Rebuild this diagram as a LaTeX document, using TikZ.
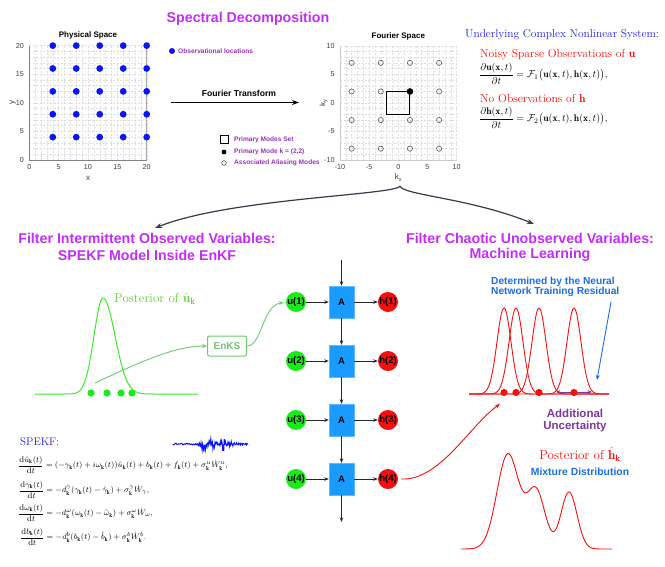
\documentclass[tikz,border=0pt]{standalone}
\usepackage{fontspec}
\usepackage{amsmath}
\newfontfamily\hv{Liberation Sans}
\usetikzlibrary{arrows.meta}
\newcommand\fsz[1]{\fontsize{#1}{#1}\selectfont}
\definecolor{tpurple}{RGB}{195,45,245}
\definecolor{lpurple}{RGB}{150,50,190}
\definecolor{obsblue}{RGB}{10,20,245}
\definecolor{gridc}{RGB}{222,222,222}
\definecolor{axisc}{RGB}{130,130,130}
\definecolor{tickc}{RGB}{60,60,60}
\definecolor{ablue}{RGB}{25,155,255}
\definecolor{ugreen}{RGB}{25,235,25}
\definecolor{hred}{RGB}{245,15,15}
\definecolor{eqblue}{RGB}{30,30,235}
\definecolor{curvegreen}{RGB}{60,235,40}
\definecolor{postgreen}{RGB}{100,210,50}
\definecolor{enksgreen}{RGB}{110,200,110}
\definecolor{nblue}{RGB}{25,110,225}
\definecolor{upurple}{RGB}{125,55,160}
\definecolor{bracec}{RGB}{50,60,75}
\begin{document}
\begin{tikzpicture}[x=1pt,y=-1pt,
  every node/.style={inner sep=0pt},
  tick/.style={font=\hv\fsz{7.2}, text=tickc},
  legtext/.style={font=\hv\bfseries\fsz{6.6}, text=lpurple, anchor=west},
  ptitle/.style={font=\hv\bfseries\fsz{8}},
  sect/.style={font=\hv\bfseries\fsz{14.2}, text=tpurple},
  abox/.style={fill=ablue, draw=ablue!70, minimum width=25pt, minimum height=32pt, font=\hv\bfseries\fsz{9.5}},
  unode/.style={circle, fill=ugreen, minimum size=20pt, font=\hv\bfseries\fsz{9.5}},
  hnode/.style={circle, fill=hred, minimum size=20pt, font=\hv\bfseries\fsz{9.5}},
  conn/.style={-{Stealth[length=4.5pt,width=3.5pt]}, line width=0.8pt, black!85},
  gline/.style={gridc, dash pattern=on 2pt off 1.5pt, line width=0.4pt},
  speq/.style={anchor=west, font=\fsz{8.3}}
]
\useasboundingbox (0,0) rectangle (665,566);

% ---------- title
\node[font=\hv\bfseries\fsz{14.2}, text=tpurple] (title) at (248,19) {Spectral Decomposition};

% ---------- physical space
\begin{scope}[shift={(29.3,160)},x=5.87pt,y=5.72pt]
  \foreach \i in {1,...,20} {\draw[gline] (\i,0) -- (\i,20); \draw[gline] (0,\i) -- (20,\i);}
  \draw[axisc, line width=0.6pt] (0,0) -- (0,20);
  \draw[axisc, line width=0.6pt] (0,0) -- (20,0);
  \draw[axisc!70, line width=0.6pt] (20,0) -- (20,20);
  \foreach \v in {0,5,10,15,20} {
    \node[tick, anchor=north] (pxt\v) at (\v,-0.7) {\v};
    \node[tick, anchor=east] (pyt\v) at (-0.9,\v) {\v};
  }
  \foreach \a in {4,8,12,16,20} \foreach \b in {4,8,12,16,20}
    \fill[obsblue] (\a,\b) circle[radius=3.4pt];
  \node[ptitle] (pstitle) at (10,21.7) {Physical Space};
  \node[tick, font=\hv\fsz{8}] (pxlab) at (10,-3.2) {x};
  \node[tick, font=\hv\fsz{8}, rotate=90] (pylab) at (-2.8,10) {y};
\end{scope}
\fill[obsblue] (172,51) circle[radius=3pt];
\node[legtext] (leg0) at (178,51) {Observational locations};

% ---------- Fourier transform arrow
\coordinate (ftA) at (171,102.5);
\coordinate (ftB) at (299,102.5);
\draw[line width=1.4pt, -{Stealth[length=7pt,width=5pt]}] (ftA) -- (ftB);
\node[font=\hv\bfseries\fsz{8.6}] (ftlab) at (239,93) {Fourier Transform};

% ---------- Fourier space
\begin{scope}[shift={(398.3,102.9)},x=5.83pt,y=5.72pt]
  \foreach \i in {-9,...,10} {\draw[gline] (\i,-10) -- (\i,10); \draw[gline] (-10,\i) -- (10,\i);}
  \draw[gridc!80!gray, line width=0.5pt] (-10,-10) -- (-10,10);
  \draw[gridc!80!gray, line width=0.5pt] (-10,-10) -- (10,-10);
  \foreach \v in {-10,-5,0,5,10} {
    \node[tick, anchor=north] (fxt\v) at (\v,-10.7) {\v};
    \node[tick, anchor=east] (fyt\v) at (-10.9,\v) {\v};
  }
  \foreach \a in {-8,-3,2,7} \foreach \b in {-8,-3,2,7}
    \draw[black!65, line width=0.6pt] (\a,\b) circle[radius=2.6pt];
  \draw[black, line width=1pt] (-2,-2) rectangle (2,2);
  \fill[black] (2,2) circle[radius=3.3pt];
  \node[ptitle] (fstitle) at (0,11.7) {Fourier Space};
  \node[tick, font=\hv\fsz{8}] (kxlab) at (0,-13.1) {k\raisebox{-0.35ex}{\fsz{5.5}x}};
  \node[tick, font=\hv\fsz{8}, rotate=90] (kylab) at (-12.8,0) {k\raisebox{-0.35ex}{\fsz{5.5}y}};
\end{scope}
\draw[black, line width=0.9pt] (220,135) rectangle (228,143);
\node[legtext] (leg1) at (234,139.5) {Primary Modes Set};
\fill[black] (224,152) circle[radius=2.4pt];
\node[legtext] (leg2) at (234,152) {Primary Mode k = (2,2)};
\draw[black!70, line width=0.6pt] (224,163) circle[radius=2.3pt];
\node[legtext] (leg3) at (234,163) {Associated Aliasing Modes};

% ---------- underlying system
\node[anchor=west, text=eqblue, font=\fsz{11.4}] (usys) at (465,35) {Underlying Complex Nonlinear System:};
\node[anchor=west, text=hred, font=\fsz{11.6}] (noisy) at (480,55) {Noisy Sparse Observations of $\mathbf{u}$};
\node[anchor=west, font=\fsz{9.6}] (eq1) at (479,74) {$\dfrac{\partial\mathbf{u}(\mathbf{x},t)}{\partial t}=\mathcal{F}_1\big(\mathbf{u}(\mathbf{x},t),\mathbf{h}(\mathbf{x},t)\big),$};
\node[anchor=west, text=hred, font=\fsz{11.6}] (noobs) at (480,99) {No Observations of $\mathbf{h}$};
\node[anchor=west, font=\fsz{9.6}] (eq2) at (479,118) {$\dfrac{\partial\mathbf{h}(\mathbf{x},t)}{\partial t}=\mathcal{F}_2\big(\mathbf{u}(\mathbf{x},t),\mathbf{h}(\mathbf{x},t)\big),$};

% ---------- brace arrows
\coordinate (junc) at (400,186);
\coordinate (lend) at (155,228);
\coordinate (rend) at (534,224);
\draw[bracec, line width=1.2pt, -{Stealth[length=7pt,width=5pt]}] (junc) .. controls (398,195) and (230,198) .. (lend);
\draw[bracec, line width=1.2pt, -{Stealth[length=7pt,width=5pt]}] (junc) .. controls (402,195) and (470,198) .. (rend);

% ---------- section titles
\node[sect] (lt1) at (147,238) {Filter Intermittent Observed Variables:};
\node[sect] (lt2) at (147,255) {SPEKF Model Inside EnKF};
\node[sect] (rt1) at (530,238) {Filter Chaotic Unobserved Variables:};
\node[sect] (rt2) at (530,255) {Machine Learning};

% ---------- green posterior
\draw[curvegreen, line width=1pt]
  plot[domain=35:103, samples=70, smooth] (\x,{394-96*exp(max(-0.5*((\x-103)/9)^2,-20))})
  -- plot[domain=103:198, samples=90, smooth] (\x,{394-96*exp(max(-0.5*((\x-103)/12)^2,-20))});
\foreach \p in {91,107,121,132} \fill[ugreen] (\p,393) circle[radius=3.6pt];
\node[anchor=west, text=postgreen, font=\fsz{13}] (postu) at (114,299) {Posterior of $\hat{\mathbf{u}}_{\mathbf{k}}$};
\node[draw=enksgreen, line width=1pt, rounded corners=2pt, minimum width=39pt, minimum height=20pt, text=enksgreen, font=\hv\bfseries\fsz{10}] (enks) at (227,346) {EnKS};
\coordinate (dotsrc) at (95,383);
\draw[enksgreen, line width=0.9pt, -{Stealth[length=5pt,width=4pt]}] (dotsrc) .. controls (140,362) and (175,346) .. (enks.west);

% ---------- network
\foreach \i/\yy in {1/302,2/361,3/420,4/479} {
  \node[abox] (A\i) at (341.5,\yy) {A};
  \node[unode] (u\i) at (296,\yy) {u(\i)};
  \node[hnode] (h\i) at (388,\yy) {h(\i)};
  \draw[conn] (u\i) -- (A\i);
  \draw[conn] (A\i) -- (h\i);
}
\draw[conn] (A1) -- (A2);
\draw[conn] (A2) -- (A3);
\draw[conn] (A3) -- (A4);
\coordinate (ntop) at (341.5,260);
\coordinate (nbot) at (341.5,522);
\draw[conn] (ntop) -- (A1);
\draw[conn] (A4) -- (nbot);
\draw[enksgreen, line width=0.9pt, -{Stealth[length=5pt,width=4pt]}, shorten >=2pt] (enks.east) .. controls (262,346) and (262,306) .. (u1.west);

% ---------- SPEKF
\node[anchor=west, text=eqblue, font=\fsz{11}] (spekf) at (20,442) {SPEKF:};
\draw[obsblue, line width=1pt]
  plot[domain=0:75, samples=140] ({173+\x},{444+(0.9+7*exp(max(-0.5*((\x-30)/2.5)^2,-20))+5*exp(max(-0.5*((\x-39)/3)^2,-20))+9*exp(max(-0.5*((\x-50)/1.6)^2,-20))+2*exp(max(-0.5*((\x-59)/4)^2,-20)))*sin(\x*97)*cos(\x*\x*1.9)});
\node[speq] (s1) at (18,465) {$\dfrac{\mathrm{d}\hat{u}_{\mathbf{k}}(t)}{\mathrm{d}t}=(-\gamma_{\mathbf{k}}(t)+i\omega_{\mathbf{k}}(t))\hat{u}_{\mathbf{k}}(t)+b_{\mathbf{k}}(t)+f_{\mathbf{k}}(t)+\sigma_{\mathbf{k}}^{u}\dot{W}_{\mathbf{k}}^{u},$};
\node[speq] (s2) at (19,490) {$\dfrac{\mathrm{d}\gamma_{\mathbf{k}}(t)}{\mathrm{d}t}=-d_{\mathbf{k}}^{\gamma}(\gamma_{\mathbf{k}}(t)-\hat{\gamma}_{\mathbf{k}})+\sigma_{\mathbf{k}}^{\gamma}\dot{W}_{\gamma},$};
\node[speq] (s3) at (18,513) {$\dfrac{\mathrm{d}\omega_{\mathbf{k}}(t)}{\mathrm{d}t}=-d_{\mathbf{k}}^{\omega}(\omega_{\mathbf{k}}(t)-\hat{\omega}_{\mathbf{k}})+\sigma_{\mathbf{k}}^{\omega}\dot{W}_{\omega},$};
\node[speq] (s4) at (20,537) {$\dfrac{\mathrm{d}b_{\mathbf{k}}(t)}{\mathrm{d}t}=-d_{\mathbf{k}}^{b}(b_{\mathbf{k}}(t)-\hat{b}_{\mathbf{k}})+\sigma_{\mathbf{k}}^{b}\dot{W}_{\mathbf{k}}^{b}.$};

% ---------- red ensemble gaussians
\foreach \m in {504,516,539,574}
  \draw[hred, line width=0.9pt] plot[domain=469:609, samples=140, smooth] (\x,{394-86*exp(max(-0.5*((\x-\m)/7)^2,-20))});
\coordinate (ua) at (556,392);
\coordinate (ub) at (592,392);
\draw[upurple, line width=1pt, {Stealth[length=4.5pt,width=4pt]}-{Stealth[length=4.5pt,width=4pt]}] (ua) -- (ub);
\foreach \m in {504,516,539,574} \fill[hred] (\m,392.5) circle[radius=3.6pt];
\node[anchor=west, align=left, text=nblue, font=\hv\bfseries\fsz{10.2}] (det) at (491,287) {Determined by the Neural\\[0.2pt]Network Training Residual};
\coordinate (bsrc) at (611,302);
\coordinate (bdst) at (597,380);
\draw[nblue, line width=0.9pt, -{Stealth[length=5pt,width=4pt]}] (bsrc) -- (bdst);
\node[align=center, text=upurple, font=\hv\bfseries\fsz{11.5}] (addunc) at (575,420.5) {Additional\\[1pt]Uncertainty};

% ---------- red arrow from h(4)
\draw[hred, line width=0.9pt, -{Stealth[length=5pt,width=4pt]}] (h4.east) ++(3,0) .. controls (440,481) and (470,425) .. (500,404);

% ---------- mixture
\node[text=hred, font=\fsz{13}] (posth) at (580,454) {Posterior of $\hat{\mathbf{h}}_{\mathbf{k}}$};
\node[text=nblue, font=\hv\bfseries\fsz{10.4}] (mix) at (580,472) {Mixture Distribution};
\draw[hred, line width=0.9pt] plot[domain=461:612, samples=160, smooth]
  (\x,{549-95*exp(max(-0.5*((\x-508)/11)^2,-20))-58*exp(max(-0.5*((\x-536)/9)^2,-20))-57*exp(max(-0.5*((\x-569)/8)^2,-20))});
\end{tikzpicture}
\end{document}
